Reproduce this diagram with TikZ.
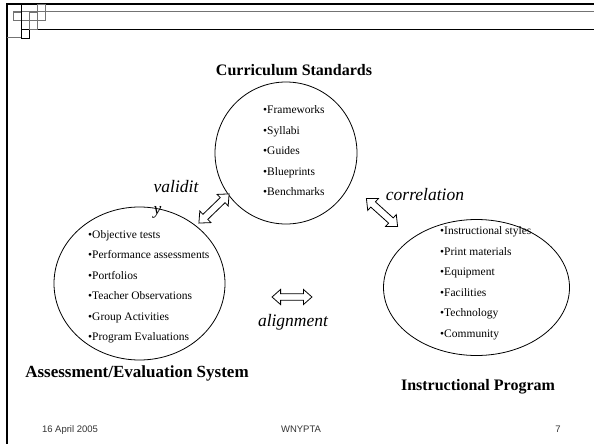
\documentclass[tikz,border=0pt]{standalone}
\usepackage{fontspec}
\setmainfont{Liberation Serif}
\setsansfont{Liberation Sans}
\usetikzlibrary{shapes.geometric}

\tikzset{
  group/.style={ellipse, draw, line width=0.8pt, inner sep=0pt},
  items/.style={anchor=west, align=left, inner sep=0pt,
    font=\fontsize{11.5}{20.5}\selectfont},
  heading/.style={font=\fontsize{16}{19}\selectfont\bfseries, inner sep=0pt},
  link/.style={font=\fontsize{17.5}{22}\selectfont\itshape, inner sep=0pt},
  footer/.style={font=\fontsize{9.5}{11}\selectfont\sffamily, text=black!80,
    inner sep=0pt, anchor=base},
  % hollow arrow with a head at each end
  pics/twoway/.style={code={
    \draw[line width=0.8pt, fill=white]
      (-21,0) -- (-12,-8) -- (-12,-3.5) -- (12,-3.5) -- (12,-8) -- (21,0)
      -- (12,8) -- (12,3.5) -- (-12,3.5) -- (-12,8) -- cycle;
    \coordinate (-end a) at (-21,0);
    \coordinate (-end b) at (21,0);
  }}
}

\begin{document}
\begin{tikzpicture}[x=1pt, y=-1pt]

	\useasboundingbox (0,0) rectangle (594,444);

	% frame in the corner
	\draw[line width=2.4pt] (7,444) -- (7,4) -- (594,4);
	\draw[line width=0.9pt, black!55] (13,11.5) -- (594,11.5);
	\draw[line width=0.9pt] (37,29) -- (594,29);
	\draw[line width=0.9pt, black!55] (7,37) -- (21,37);
	\draw[line width=0.9pt, black!55] (13,12) rectangle (21,20);
	\draw[line width=0.9pt] (21,29) rectangle (29,38);
	\draw[line width=0.9pt, black!55] (29,12) rectangle (37,29);
	\draw[line width=0.9pt, black!55] (37,4) rectangle (45,20);
	\draw[line width=0.9pt, black!55] (13,20) -- (45,20);
	\draw[line width=0.9pt] (21,4) -- (21,37);

	% the three groups
	\node[group, minimum width=142pt, minimum height=142pt] (standards) at (286,153) {};
	\node[heading] (standardsTitle) at (294,70) {Curriculum Standards};
	\node[items] (standardsList) at (263,151) {%
		•Frameworks\\ •Syllabi\\ •Guides\\ •Blueprints\\ •Benchmarks};

	\node[group, minimum width=171pt, minimum height=153pt] (assessment) at (139.5,283.5) {};
	\node[heading, font=\fontsize{17}{20}\selectfont\bfseries] (assessmentTitle) at (137,373) {Assessment/Evaluation System};
	\node[items] (assessmentList) at (88,286.5) {%
		•Objective tests\\ •Performance assessments\\ •Portfolios\\
		•Teacher Observations\\ •Group Activities\\ •Program Evaluations};

	\node[group, minimum width=186pt, minimum height=136pt] (program) at (476.5,287.5) {};
	\node[heading] (programTitle) at (478,387) {Instructional Program};
	\node[items] (programList) at (440,283) {%
		•Instructional styles\\ •Print materials\\ •Equipment\\
		•Facilities\\ •Technology\\ •Community};

	% links between them
	\pic[rotate=44] (validityArrow) at (214,208.5) {twoway};
	\node[link, align=left] (validity) at (176,199) {validit\\y};

	\pic[rotate=-42] (correlationArrow) at (382,212.5) {twoway};
	\node[link] (correlation) at (425,195) {correlation};

	\pic[scale=0.95] (alignmentArrow) at (292,297) {twoway};
	\node[link] (alignment) at (293,322) {alignment};

	% footer
	\node[footer] (date) at (70,432) {16 April 2005};
	\node[footer] (org) at (301,432) {WNYPTA};
	\node[footer] (page) at (558,432) {7};

\end{tikzpicture}
\end{document}
